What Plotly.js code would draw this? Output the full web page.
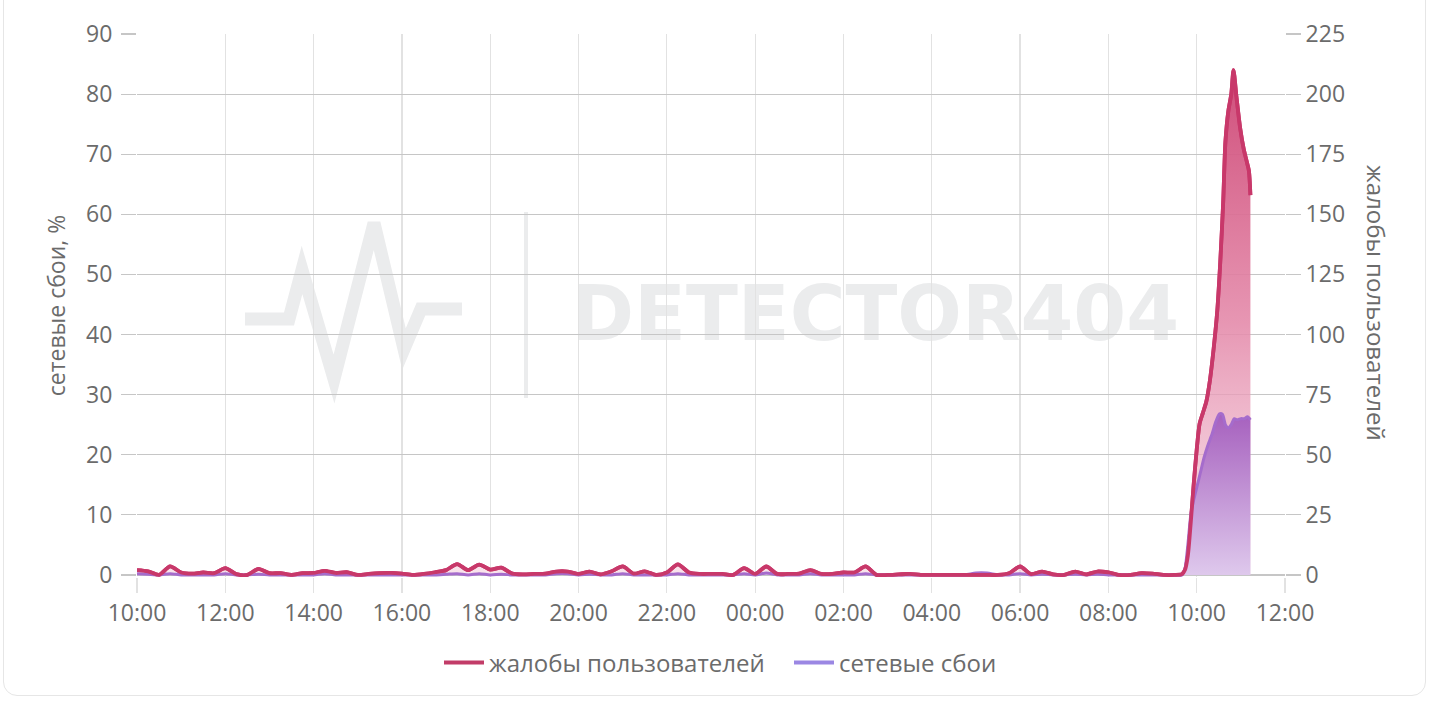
<!DOCTYPE html>
<html>
<head>
<meta charset="utf-8">
<script src="https://cdn.plot.ly/plotly-3.0.1.min.js"></script>
<style>
  html, body { margin: 0; padding: 0; background: #ffffff; overflow: hidden; }
  #chart { width: 1430px; height: 702px; position: absolute; left: 0; top: 0; }
  #card { position: absolute; left: 3px; top: -24px; width: 1421px; height: 718px;
          border: 1.5px solid #e6e6e6; border-radius: 14px; pointer-events: none; }
</style>
</head>
<body>
<div id="chart"></div>
<div id="card"></div>
<script>
// ---------- data ----------
const seriesNames = ['жалобы пользователей', 'сетевые сбои'];
const axisTitles = ['сетевые сбои, %', 'жалобы пользователей'];
const watermarkText = 'DETECTOR404';

// background period: 15-minute samples from 2024-01-01 10:00 to 2024-01-02 09:30
const baseStart = '2024-01-01T10:00:00Z';
const baseStepMinutes = 15;
const complaintsBase = [
  2, 1.5, 0, 3.5, 1, 0.5, 1, 0.7, 2.8, 0.3,
  0, 2.5, 0.7, 0.7, 0, 0.7, 0.8, 1.7, 0.8, 1.1,
  0, 0.4, 0.7, 0.8, 0.5, 0, 0.4, 1.1, 2, 4.5,
  2, 4.3, 2.2, 3, 0.5, 0.2,
  0.4, 0.5, 1.4, 1.4, 0.4, 1.4, 0.2, 1.5, 3.5, 0.5,
  1.5, 0, 1, 4.4, 1, 0.4, 0.4, 0.4, 0, 2.8,
  0.4, 3.5, 0.4, 0.4, 0.5, 2, 0.4, 0.4, 1, 1,
  3.5, 0, 0, 0.2, 0.4,
  0, 0, 0, 0, 0, 0, 0, 0, 0.7, 3.5,
  0.3, 1.4, 0.2, 0, 1.4, 0.2, 1.4, 1, 0, 0,
  0.7, 0.5, 0, 0
];
const failuresBase = [
  0.2, 0.1, 0, 0.2, 0, 0, 0, 0, 0.2, 0,
  0, 0.1, 0, 0, 0, 0, 0, 0.2, 0, 0,
  0, 0, 0, 0, 0, 0, 0, 0, 0.1, 0.2,
  0, 0.2, 0, 0.1, 0, 0,
  0, 0, 0.2, 0.2, 0, 0.1, 0, 0, 0.2, 0,
  0, 0, 0, 0.2, 0, 0, 0, 0, 0, 0.2,
  0, 0.3, 0, 0, 0, 0.2, 0, 0, 0, 0,
  0.2, 0, 0, 0, 0,
  0, 0, 0, 0, 0, 0.3, 0.3, 0, 0, 0.2,
  0, 0.1, 0, 0, 0.1, 0, 0.1, 0, 0, 0,
  0, 0, 0, 0
];

// outbreak on 2024-01-02
const spikeDay = '2024-01-02 ';
const complaintsSpikeTimes = ['09:40','09:44','09:48','09:52','09:56','10:00','10:04','10:08','10:13','10:18',
  '10:23','10:28','10:32','10:36','10:39','10:43','10:47','10:50','10:54','10:59','11:04','11:08','11:11','11:13'];
const complaintsSpike = [0.3, 2, 8, 22, 38, 52, 63, 67, 72, 81,
  94, 110, 130, 155, 180, 193, 200, 210, 199, 186, 177, 172, 168, 158];
const failuresSpikeTimes = ['09:40','09:44','09:48','09:52','09:56','10:00','10:05','10:10','10:15','10:21',
  '10:26','10:31','10:35','10:39','10:43','10:47','10:51','10:55','11:00','11:05','11:09','11:13'];
const failuresSpike = [0, 1, 5, 10, 12.5, 14.5, 17, 19.5, 21.5, 23.5,
  25.5, 26.8, 26.7, 25, 24.5, 25, 26, 25.8, 26, 26, 26.3, 25.8];

const xRange = ['2024-01-01 10:00', '2024-01-02 12:00'];
const leftTicks = [0, 10, 20, 30, 40, 50, 60, 70, 80, 90];
const rightTicks = [0, 25, 50, 75, 100, 125, 150, 175, 200, 225];

// ---------- build ----------
function fmt(ms) { return new Date(ms).toISOString().slice(0, 16).replace('T', ' '); }
const t0 = Date.parse(baseStart);
const baseTimes = complaintsBase.map((_, i) => fmt(t0 + i * baseStepMinutes * 60000));

const cx = baseTimes.concat(complaintsSpikeTimes.map(t => spikeDay + t));
const cy = complaintsBase.concat(complaintsSpike);
const fx = baseTimes.concat(failuresSpikeTimes.map(t => spikeDay + t));
const fy = failuresBase.concat(failuresSpike);

const redLine = '#c8386a';
const purpleLine = '#a56ccc';
const gray = '#6b6b6b';
const FONT = '"Open Sans", "Noto Sans", sans-serif';
const lineCfg = { shape: 'spline', smoothing: 0.7 };

const traces = [
  {
    x: cx, y: cy, yaxis: 'y', type: 'scatter', mode: 'lines', name: seriesNames[0],
    showlegend: false, hoverinfo: 'skip',
    line: Object.assign({ color: redLine, width: 3.8 }, lineCfg),
    fill: 'tozeroy',
    fillgradient: { type: 'vertical', start: 0, stop: Math.max(...cy),
      colorscale: [[0, 'rgba(244,205,220,0.55)'], [0.5, 'rgba(228,138,170,0.9)'], [1, 'rgba(206,72,118,0.97)']] }
  },
  {
    x: fx, y: fy, yaxis: 'y2', type: 'scatter', mode: 'lines', name: seriesNames[1],
    showlegend: false, hoverinfo: 'skip',
    line: Object.assign({ color: purpleLine, width: 3 }, lineCfg),
    fill: 'tozeroy',
    fillgradient: { type: 'vertical', start: 0, stop: Math.max(...fy),
      colorscale: [[0, 'rgba(222,200,236,1)'], [1, 'rgba(166,96,190,1)']] }
  },
  {
    x: cx, y: cy, yaxis: 'y3', type: 'scatter', mode: 'lines', name: seriesNames[0],
    showlegend: false, hoverinfo: 'skip',
    line: Object.assign({ color: redLine, width: 3.8 }, lineCfg)
  },
  { x: [null], y: [null], yaxis: 'y', type: 'scatter', mode: 'lines', name: seriesNames[0],
    line: { color: '#c23c68', width: 4 } },
  { x: [null], y: [null], yaxis: 'y', type: 'scatter', mode: 'lines', name: seriesNames[1],
    line: { color: '#9b87e3', width: 4 } }
];

const M = { l: 137, r: 145, t: 34, b: 125 };
const W = 1430, H = 702;
const pw = W - M.l - M.r, ph = H - M.t - M.b;
const px = x => (x - M.l) / pw;
const py = y => (H - M.b - y) / ph;

const wm = '#ebeced';
const logoPts = [[245,319],[289,319],[302,270],[334,379],[374,223],[404,349],[421,309],[462,309]];
const logoPath = 'M' + logoPts.map(p => px(p[0]).toFixed(5) + ',' + py(p[1]).toFixed(5)).join(' L');
const rightRange = [-0.875, 225];

const layout = {
  width: W, height: H,
  margin: M,
  paper_bgcolor: 'rgba(0,0,0,0)',
  plot_bgcolor: 'rgba(0,0,0,0)',
  font: { family: FONT, size: 23, color: gray },
  showlegend: true,
  legend: { orientation: 'h', x: px(439), xanchor: 'left', y: py(663), yanchor: 'middle',
            font: { size: 24, color: gray }, itemwidth: 40, traceorder: 'normal',
            entrywidth: 295, entrywidthmode: 'pixels' },
  hovermode: false,
  xaxis: {
    type: 'date', range: xRange, tickformat: '%H:%M', dtick: 7200000, tick0: xRange[0],
    showgrid: true, gridcolor: '#e2e2e2', gridwidth: 1.2,
    ticks: 'outside', ticklen: 15, tickcolor: '#e2e2e2', tickwidth: 1.2,
    showline: false, zeroline: false, tickfont: { size: 23, color: gray }
  },
  yaxis: {
    side: 'right', range: rightRange, tickvals: rightTicks,
    showgrid: true, gridcolor: '#c6c6c6', gridwidth: 1.2,
    ticks: 'outside', ticklen: 15, tickcolor: '#c6c6c6', tickwidth: 1.2,
    showline: false, zeroline: false, tickfont: { size: 23, color: gray }, ticklabelstandoff: 0
  },
  yaxis2: {
    overlaying: 'y', side: 'left', range: [-0.35, 90], tickvals: leftTicks,
    showgrid: false, ticks: 'outside', ticklen: 15, tickcolor: '#c6c6c6', tickwidth: 1.2,
    showline: false, zeroline: false, tickfont: { size: 23, color: gray }, ticklabelstandoff: 4,
    title: { text: axisTitles[0], font: { size: 23, color: gray }, standoff: 14 }
  },
  yaxis3: {
    overlaying: 'y', side: 'right', range: rightRange, visible: false, showgrid: false
  },
  annotations: [
    { text: axisTitles[1], xref: 'paper', yref: 'paper', x: px(1377), y: py(303),
      xanchor: 'center', yanchor: 'middle', showarrow: false, textangle: 90,
      font: { size: 24, color: gray } }
  ],
  shapes: [
    { type: 'path', xref: 'paper', yref: 'paper', path: logoPath, layer: 'below',
      line: { color: wm, width: 13 } },
    { type: 'line', xref: 'paper', yref: 'paper', x0: px(526), x1: px(526), y0: py(212), y1: py(398),
      layer: 'below', line: { color: wm, width: 4 } },
    { type: 'rect', xref: 'paper', yref: 'paper', x0: px(560), x1: px(1190), y0: py(270), y1: py(346),
      layer: 'below', line: { width: 0 }, fillcolor: 'rgba(0,0,0,0)',
      label: { text: watermarkText, textposition: 'middle center',
               font: { family: '"DejaVu Sans", sans-serif', size: 76, color: wm, weight: 'bold' } } }
  ]
};

Plotly.newPlot('chart', traces, layout, { staticPlot: true, displayModeBar: false });
</script>
</body>
</html>
